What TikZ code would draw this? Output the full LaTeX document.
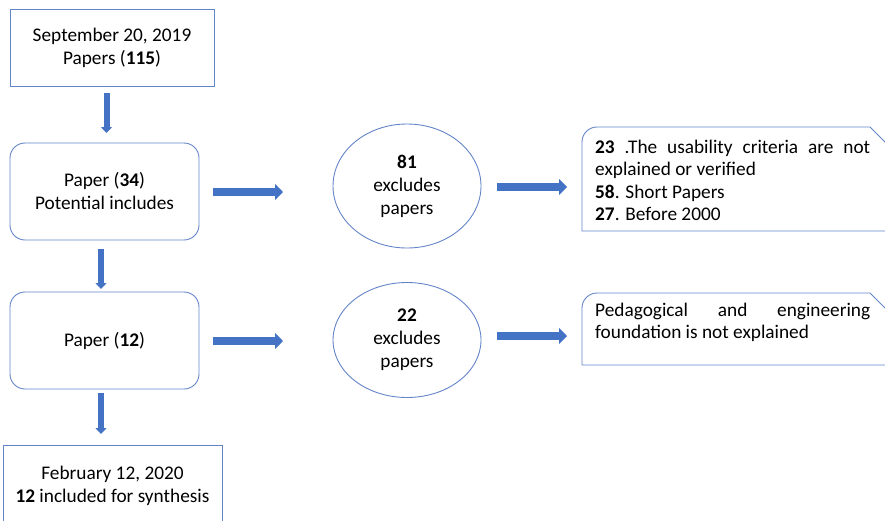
\documentclass[tikz,border=0pt]{standalone}
\usepackage{fontspec}
\setmainfont{Carlito}
\usetikzlibrary{arrows.meta,shapes.geometric}
\definecolor{edgeblue}{RGB}{100,132,200}
\definecolor{arrowblue}{RGB}{68,114,196}
\hyphenpenalty=10000
\exhyphenpenalty=10000
\tolerance=10000
\tikzset{
  txt/.style={font=\fontsize{19.3}{23}\selectfont, inner sep=0pt},
  sqbox/.style={txt, draw=edgeblue, line width=0.9pt, rectangle, align=center},
  rbox/.style={txt, draw=edgeblue, line width=0.9pt, rectangle, rounded corners=15pt, align=center},
  excl/.style={txt, draw=edgeblue, line width=0.9pt, ellipse, align=center},
  darrow/.style={draw=arrowblue, line width=6pt, -{Triangle[width=11pt,length=6pt]}},
  harrow/.style={draw=arrowblue, line width=8pt, -{Triangle[width=16pt,length=8pt]}},
  noteline/.style={draw=edgeblue, line width=0.9pt},
  notetext/.style={txt, font=\fontsize{19.3}{22.3}\selectfont,
    anchor=north west, text width=275pt, align=justify},
}
\begin{document}
\begin{tikzpicture}[x=1pt,y=-1pt]
\useasboundingbox (0,0) rectangle (885,520);
\clip (0,0) rectangle (885,520);
% left column
\node[sqbox, minimum width=204pt, minimum height=77pt] (b1) at (112,47.5)
  {September 20, 2019\\Papers (\textbf{115})};
\node[rbox, minimum width=189pt, minimum height=97pt] (b2) at (104.5,191.5)
  {Paper (\textbf{34})\\Potential includes};
\node[rbox, minimum width=189pt, minimum height=97pt] (b3) at (104.5,340.5)
  {Paper (\textbf{12})};
\node[sqbox, minimum width=219pt, minimum height=82pt] (b4) at (112.5,486)
  {February 12, 2020\\\textbf{12} included for synthesis};
% ellipses
\node[excl, minimum width=148pt, minimum height=124pt] (e1) at (407,186)
  {\textbf{81}\\excludes\\papers};
\node[excl, minimum width=148pt, minimum height=115pt] (e2) at (407,340)
  {\textbf{22}\\excludes\\papers};
% note shapes
\draw[noteline] (582,231) -- (582,142) arc[start angle=180, end angle=270, radius=15]
  -- (870,127) -- (900,157) -- (900,231) -- cycle;
\draw[noteline] (582,365) -- (582,308) arc[start angle=180, end angle=270, radius=15]
  -- (870,293) -- (900,323) -- (900,365) -- cycle;
\node[notetext] (r1) at (595,140)
  {\textbf{23} .The usability criteria are not explained or verified\\
   \textbf{58}. Short Papers\\
   \textbf{27}. Before 2000};
\node[notetext] (r2) at (595,303)
  {Pedagogical and engineering foundation is not explained};
% arrow end points
\coordinate (d1s) at (106.5,93);  \coordinate (d1e) at (106.5,133);
\coordinate (d2s) at (101,249);   \coordinate (d2e) at (101,289);
\coordinate (d3s) at (101,393);   \coordinate (d3e) at (101,434);
\coordinate (h1s) at (213,192);   \coordinate (h1e) at (283,192);
\coordinate (h2s) at (497,187);   \coordinate (h2e) at (567,187);
\coordinate (h3s) at (213,341);   \coordinate (h3e) at (283,341);
\coordinate (h4s) at (497,336);   \coordinate (h4e) at (567,336);
\draw[darrow] (d1s) -- (d1e);
\draw[darrow] (d2s) -- (d2e);
\draw[darrow] (d3s) -- (d3e);
\draw[harrow] (h1s) -- (h1e);
\draw[harrow] (h2s) -- (h2e);
\draw[harrow] (h3s) -- (h3e);
\draw[harrow] (h4s) -- (h4e);
\end{tikzpicture}
\end{document}
